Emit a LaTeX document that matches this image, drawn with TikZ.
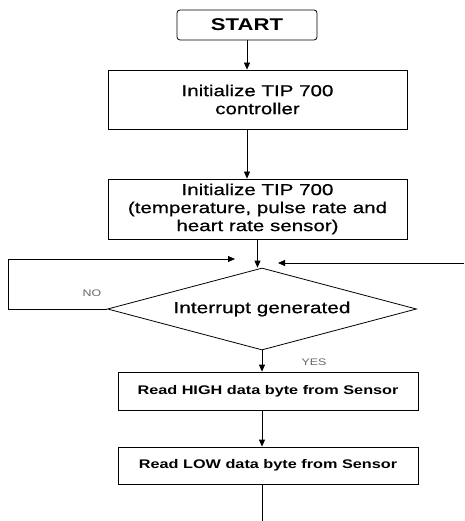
\documentclass[tikz,border=0pt]{standalone}
\usepackage{fontspec}
\setmainfont{Liberation Sans}[FakeStretch=1.3]
\newfontfamily\medfont{Liberation Sans}[FakeStretch=1.3,FakeBold=0.6]
\usetikzlibrary{arrows.meta,shapes.geometric}
\tikzset{
  box/.style={draw=black, line width=0.8pt, inner sep=0pt, align=center, fill=white},
  startbox/.style={box, rounded corners=3pt, font=\fontsize{17}{20}\selectfont\bfseries},
  bigtxt/.style={font=\medfont\fontsize{15.8}{18}\selectfont},
  smalltxt/.style={font=\fontsize{12.5}{15}\selectfont\bfseries},
  dia/.style={draw=black, line width=0.8pt, diamond, inner sep=0pt, aspect=3.77, font=\medfont\fontsize{16}{19}\selectfont},
  arr/.style={draw=black, line width=0.8pt, -{Triangle[length=7pt,width=6pt]}},
  ln/.style={draw=black, line width=0.8pt},
  lbl/.style={text=black!60, font=\fontsize{9.5}{11}\selectfont, inner sep=0pt}
}
\begin{document}
\begin{tikzpicture}[x=1pt,y=-1pt]
\useasboundingbox[fill=white] (0,0) rectangle (464,521);
\node[startbox, minimum width=140pt, minimum height=30pt] (start) at (247,25) {START};
\node[box, bigtxt, minimum width=299pt, minimum height=59pt] (b1) at (257.5,99.5) {Initialize TIP 700\\controller};
\node[box, bigtxt, minimum width=299pt, minimum height=60pt] (b2) at (257.5,209) {Initialize TIP 700\\(temperature, pulse rate and\\heart rate sensor)};
\node[dia, minimum width=309pt, minimum height=82pt] (d) at (262,309) {Interrupt generated};
\node[box, smalltxt, minimum width=300pt, minimum height=38pt] (b3) at (268,391) {Read HIGH data byte from Sensor};
\node[box, smalltxt, minimum width=300pt, minimum height=37pt] (b4) at (268,465.5) {Read LOW data byte from Sensor};
\node[lbl] (no) at (92,293) {NO};
\node[lbl] (yes) at (314,362) {YES};
\coordinate (noend) at (235,259);
\coordinate (rin) at (464,263);
\coordinate (rend) at (278,263);
\coordinate (bot) at (262,521);
\draw[arr] (start.south) -- (start.south |- b1.north);
\draw[arr] (start.south |- b1.south) -- (start.south |- b2.north);
\draw[arr] (b2.south) -- (b2.south |- d.north);
\draw[arr] (d.west) -- (8,309) |- (noend);
\draw[arr] (rin) -- (rend);
\draw[arr] (d.south) -- (d.south |- b3.north);
\draw[arr] (d.south |- b3.south) -- (d.south |- b4.north);
\draw[ln] (d.south |- b4.south) -- (bot);
\end{tikzpicture}
\end{document}
